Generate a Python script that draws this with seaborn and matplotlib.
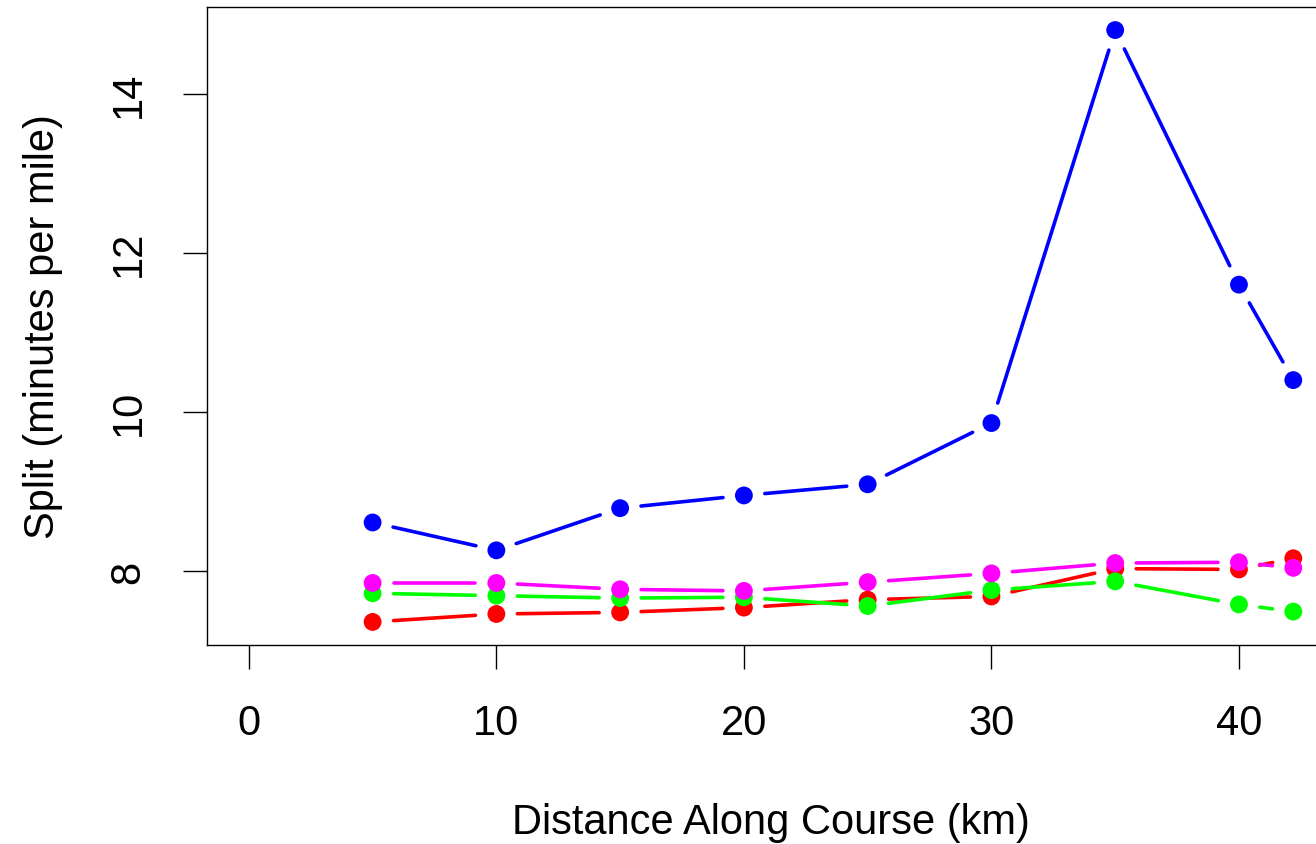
import numpy as np
import pandas as pd
import seaborn as sns
import matplotlib
matplotlib.use('Agg')
import matplotlib.pyplot as plt

# splits at each timing mat (km) for four runners
dist = [5, 10, 15, 20, 25, 30, 35, 40, 42.195]
blue = [8.61, 8.26, 8.79, 8.95, 9.09, 9.86, 14.80, 11.60, 10.40]
red = [7.36, 7.46, 7.48, 7.54, 7.64, 7.68, 8.03, 8.02, 8.16]
green = [7.72, 7.69, 7.66, 7.67, 7.56, 7.76, 7.87, 7.58, 7.49]
magenta = [7.85, 7.85, 7.77, 7.75, 7.86, 7.97, 8.10, 8.11, 8.04]

runners = {'blue': blue, 'red': red, 'lime': green, 'magenta': magenta}
df = pd.concat([pd.DataFrame({'km': dist, 'split': v, 'runner': k}) for k, v in runners.items()])

sns.set_style('white')
plt.rcParams['font.family'] = ['Liberation Sans', 'DejaVu Sans']
plt.rcParams['text.color'] = 'black'
plt.rcParams['axes.labelcolor'] = 'black'

fig = plt.figure(figsize=(13.16, 8.45), dpi=100)
ax = fig.add_axes([207/1316, 199/845, 1128/1316, 638/845])
ax.set_xlim(-1.69, 43.88)
ax.set_ylim(7.07, 15.09)

gap = 21  # pixels of blank line around each point, like R type="b"
for i, (name, vals) in enumerate(runners.items()):
    sub = df[df.runner == name]
    pts = ax.transData.transform(np.column_stack([sub.km, sub.split]))
    for p0, p1 in zip(pts[:-1], pts[1:]):
        d = p1 - p0
        L = np.hypot(*d)
        if L <= 2 * gap:
            continue
        u = d / L
        seg = ax.transData.inverted().transform([p0 + u * gap, p1 - u * gap])
        ax.plot(seg[:, 0], seg[:, 1], color=name, lw=2.6, solid_capstyle='round', zorder=2 + 2 * i)
    sns.scatterplot(data=sub, x='km', y='split', color=name, s=165, edgecolor='none',
                    ax=ax, zorder=3 + 2 * i, legend=False)

ax.set_xticks([0, 10, 20, 30, 40])
ax.set_yticks([8, 10, 12, 14])
ax.set_yticklabels(['8', '10', '12', '14'], rotation=90, va='center')
ax.tick_params(axis='both', direction='out', length=17, width=1, labelsize=30, pad=25,
               bottom=True, left=True, colors='black')
for s in ax.spines.values():
    s.set_color('black')
    s.set_linewidth(1)
ax.set_xlabel('Distance Along Course (km)', fontsize=30, labelpad=42)
ax.set_ylabel('Split (minutes per mile)', fontsize=30, labelpad=33)

fig.savefig('out.png', dpi=100)
